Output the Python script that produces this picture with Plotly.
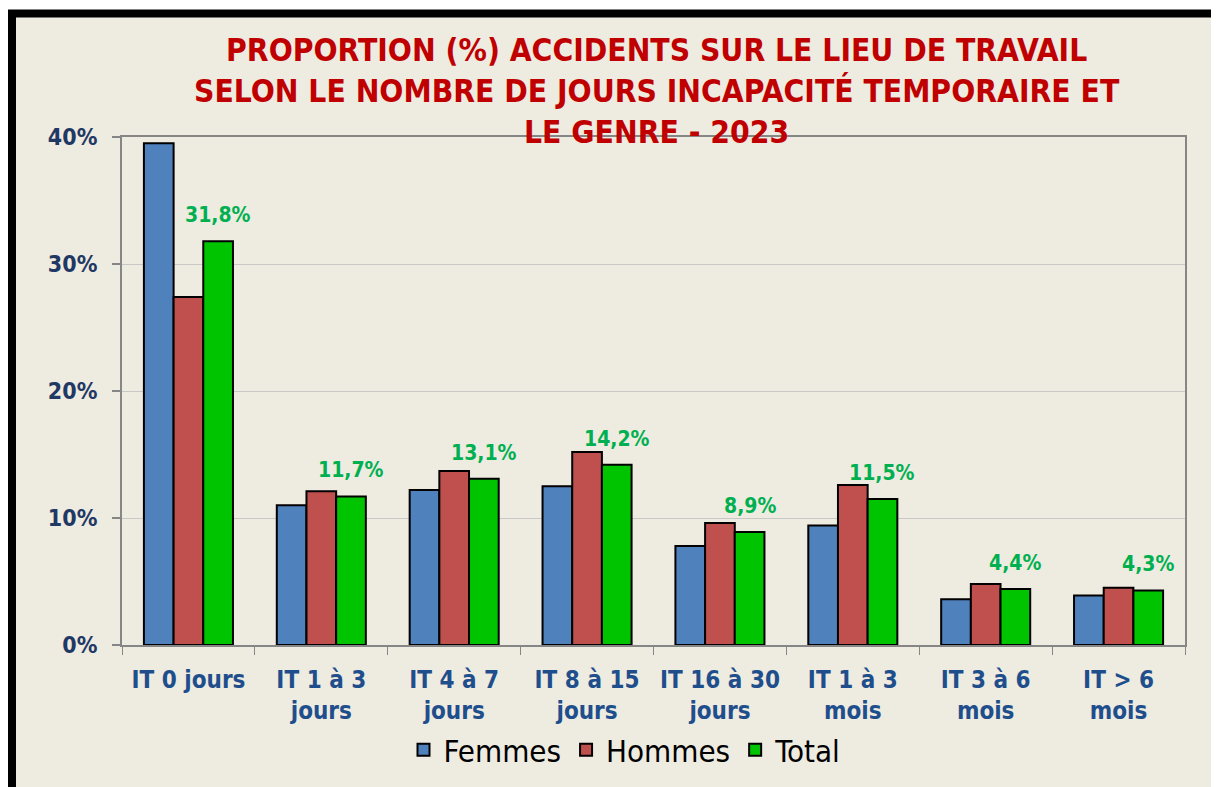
import plotly.graph_objects as go

categories = ["IT 0 jours", "IT 1 à 3<br>jours", "IT 4 à 7<br>jours", "IT 8 à 15<br>jours",
              "IT 16 à 30<br>jours", "IT 1 à 3<br>mois", "IT 3 à 6<br>mois", "IT > 6<br>mois"]
femmes = [39.5, 11.0, 12.2, 12.5, 7.8, 9.4, 3.6, 3.9]
hommes = [27.4, 12.1, 13.7, 15.2, 9.6, 12.6, 4.8, 4.5]
total = [31.8, 11.7, 13.1, 14.2, 8.9, 11.5, 4.4, 4.3]
total_labels = ["31,8%", "11,7%", "13,1%", "14,2%", "8,9%", "11,5%", "4,4%", "4,3%"]
y_ticks = [0, 10, 20, 30, 40]
y_tick_labels = ["0%", "10%", "20%", "30%", "40%"]

FONT = "DejaVu Sans Condensed, Liberation Sans Narrow, DejaVu Sans, sans-serif"
OFF = 8  # page body margin
W, H = 1219 - OFF, 787 - OFF
ML, MR, MT, MB = 122 - OFF, 34, 137 - OFF, 142
PW, PH = W - ML - MR, H - MT - MB

def px_x(p):
    return (p - OFF - ML) / PW

def px_y(p):
    return (H - MB - (p - OFF)) / PH

fig = go.Figure()
series = [("Femmes", femmes, "#4F81BD"), ("Hommes", hommes, "#C0504D"), ("Total", total, "#00C400")]
for name, vals, col in series:
    fig.add_trace(go.Bar(
        name=name, x=categories, y=vals,
        marker=dict(color=col, line=dict(color="#000000", width=2)),
        hoverinfo="skip",
    ))

bargap = 0.33
bw = (1 - bargap) / 3
for i, (v, lab) in enumerate(zip(total, total_labels)):
    fig.add_annotation(x=i + bw, y=v, xref="x", yref="y", text=lab, showarrow=False,
                       yanchor="bottom", yshift=12,
                       font=dict(family=FONT, size=21, color="#00B050", weight="bold"))

fig.add_annotation(
    text="PROPORTION (%) ACCIDENTS SUR LE LIEU DE TRAVAIL<br>SELON LE NOMBRE DE JOURS INCAPACITÉ TEMPORAIRE ET<br>LE GENRE - 2023",
    xref="paper", yref="paper", x=px_x(657), y=px_y(30), xanchor="center", yanchor="top",
    showarrow=False, align="center",
    font=dict(family=FONT, size=31.5, color="#C00000", weight="bold"))

# frame
fig.add_shape(type="rect", xref="paper", yref="paper", layer="below",
              x0=px_x(12), x1=px_x(1219 + 30), y0=px_y(787 + 30), y1=px_y(13.5),
              line=dict(color="#000000", width=8), fillcolor="#EEEBE0")

fig.update_layout(
    width=W, height=H,
    margin=dict(l=ML, r=MR, t=MT, b=MB, autoexpand=False),
    paper_bgcolor="#FFFFFF", plot_bgcolor="rgba(0,0,0,0)",
    barmode="group", bargap=bargap, bargroupgap=0,
    legend=dict(orientation="h", x=px_x(625), xanchor="center", y=px_y(750), yanchor="middle",
                font=dict(family=FONT, size=31, color="#000000"), bgcolor="rgba(0,0,0,0)",
                traceorder="normal", itemwidth=30),
    showlegend=True,
)
fig.update_xaxes(
    showline=True, linecolor="#868686", linewidth=2, mirror=True,
    ticks="outside", tickson="boundaries", ticklen=8, tickcolor="#868686", tickwidth=1,
    tickfont=dict(family=FONT, size=24, color="#1F4E8C", weight="bold"),
    tickangle=0, automargin=False,
    ticklabelstandoff=12, showgrid=False,
)
fig.update_yaxes(
    range=[0, 40], tickvals=y_ticks, ticktext=y_tick_labels,
    showline=True, linecolor="#868686", linewidth=2, mirror=True,
    ticks="outside", ticklen=8, tickcolor="#868686", tickwidth=2,
    showgrid=True, gridcolor="#C8C8C8", gridwidth=1,
    tickfont=dict(family=FONT, size=23, color="#1F3864", weight="bold"),
    ticklabelstandoff=10, zeroline=False, automargin=False,
)
fig.write_html("out.html")
